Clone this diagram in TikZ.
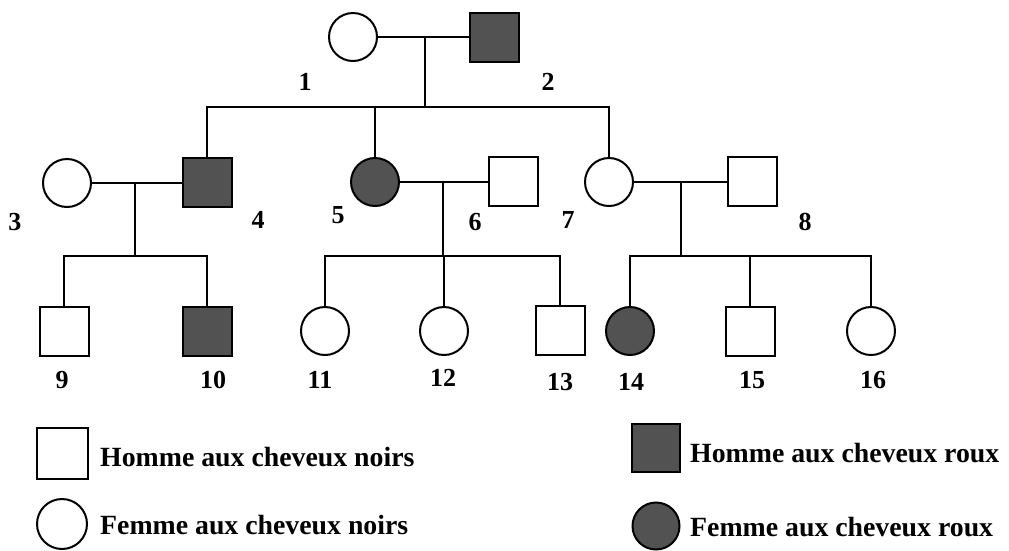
\documentclass[tikz,border=0pt]{standalone}
\usepackage{fontspec}
\setmainfont{Liberation Serif}
\begin{document}
\begin{tikzpicture}[x=1pt,y=-1pt,
  male/.style={draw,line width=2pt,rectangle,minimum size=49pt,inner sep=0pt},
  female/.style={draw,line width=2pt,circle,minimum size=48pt,inner sep=0pt},
  affected/.style={fill=black!68},
  link/.style={line width=1.9pt},
  thinlink/.style={line width=1.4pt},
  num/.style={font=\fontsize{26}{28}\selectfont\bfseries,inner sep=0pt},
  legtext/.style={font=\fontsize{27.8}{30}\selectfont\bfseries,anchor=west,inner sep=0pt}]
\useasboundingbox (0,0) rectangle (1009,550);

% generation I
\node[female] (p1) at (353,37) {};
\node[male,affected] (p2) at (494,37) {};
\coordinate (m12) at (425,37);
\coordinate (s12) at (425,107);

% generation II
\node[female] (p3) at (67,183) {};
\node[male,affected] (p4) at (207,182) {};
\node[female,affected] (p5) at (375,182) {};
\node[male] (p6) at (513,181) {};
\node[female] (p7) at (609,182) {};
\node[male] (p8) at (752,181) {};
\coordinate (m34) at (135,183);
\coordinate (s34) at (135,256);
\coordinate (m56) at (443,182);
\coordinate (s56) at (443,256);
\coordinate (m78) at (681,182);
\coordinate (s78) at (681,256);

% generation III
\node[male] (p9) at (64,331) {};
\node[male,affected] (p10) at (207,331) {};
\node[female] (p11) at (325,331) {};
\node[female] (p12) at (444,331) {};
\node[male] (p13) at (560,330) {};
\node[female,affected] (p14) at (630,331) {};
\node[male] (p15) at (750,331) {};
\node[female] (p16) at (871,331) {};

% connectors
\draw[link] (p1) -- (p2);
\draw[link] (m12) -- (s12);
\draw[thinlink] (p4.north) |- (s12) -| (p7.north);
\draw[thinlink] (p5.north) -- (p5.north |- s12);

\draw[link] (p3.east) -- (p3.east -| p4.west);
\draw[link] (m34) -- (s34);
\draw[link] (p9.north) |- (s34) -| (p10.north);

\draw[link] (p5.east) -- (p5.east -| p6.west);
\draw[link] (m56) -- (s56);
\draw[link] (p11.north) |- (s56) -| (p13.north);
\draw[link] (p12.north) -- (p12.north |- s56);

\draw[link] (p7.east) -- (p7.east -| p8.west);
\draw[link] (m78) -- (s78);
\draw[link] (p14.north) |- (s78) -| (p16.north);
\draw[link] (p15.north) -- (p15.north |- s78);

% labels
\node[num] (l1) at (305,82) {1};
\node[num] (l2) at (548,82) {2};
\node[num] (l3) at (15,222) {3};
\node[num] (l4) at (258,220) {4};
\node[num] (l5) at (338,215) {5};
\node[num] (l6) at (475,222) {6};
\node[num] (l7) at (568,220) {7};
\node[num] (l8) at (805,222) {8};
\node[num] (l9) at (62,380) {9};
\node[num] (l10) at (213,380) {10};
\node[num] (l11) at (320,380) {11};
\node[num] (l12) at (443,378) {12};
\node[num] (l13) at (560,382) {13};
\node[num] (l14) at (631,382) {14};
\node[num] (l15) at (752,380) {15};
\node[num] (l16) at (873,380) {16};

% legend
\node[male,minimum size=51pt] (k1) at (62,453) {};
\node[legtext] (t1) at (100,457) {Homme aux cheveux noirs};
\node[female,minimum size=50pt] (k2) at (62,524) {};
\node[legtext] (t2) at (100,525) {Femme aux cheveux noirs};
\node[male,affected,minimum size=48pt] (k3) at (656,448) {};
\node[legtext] (t3) at (690,453) {Homme aux cheveux roux};
\node[female,affected,minimum size=47pt] (k4) at (656,526) {};
\node[legtext] (t4) at (690,527) {Femme aux cheveux roux};
\end{tikzpicture}
\end{document}
